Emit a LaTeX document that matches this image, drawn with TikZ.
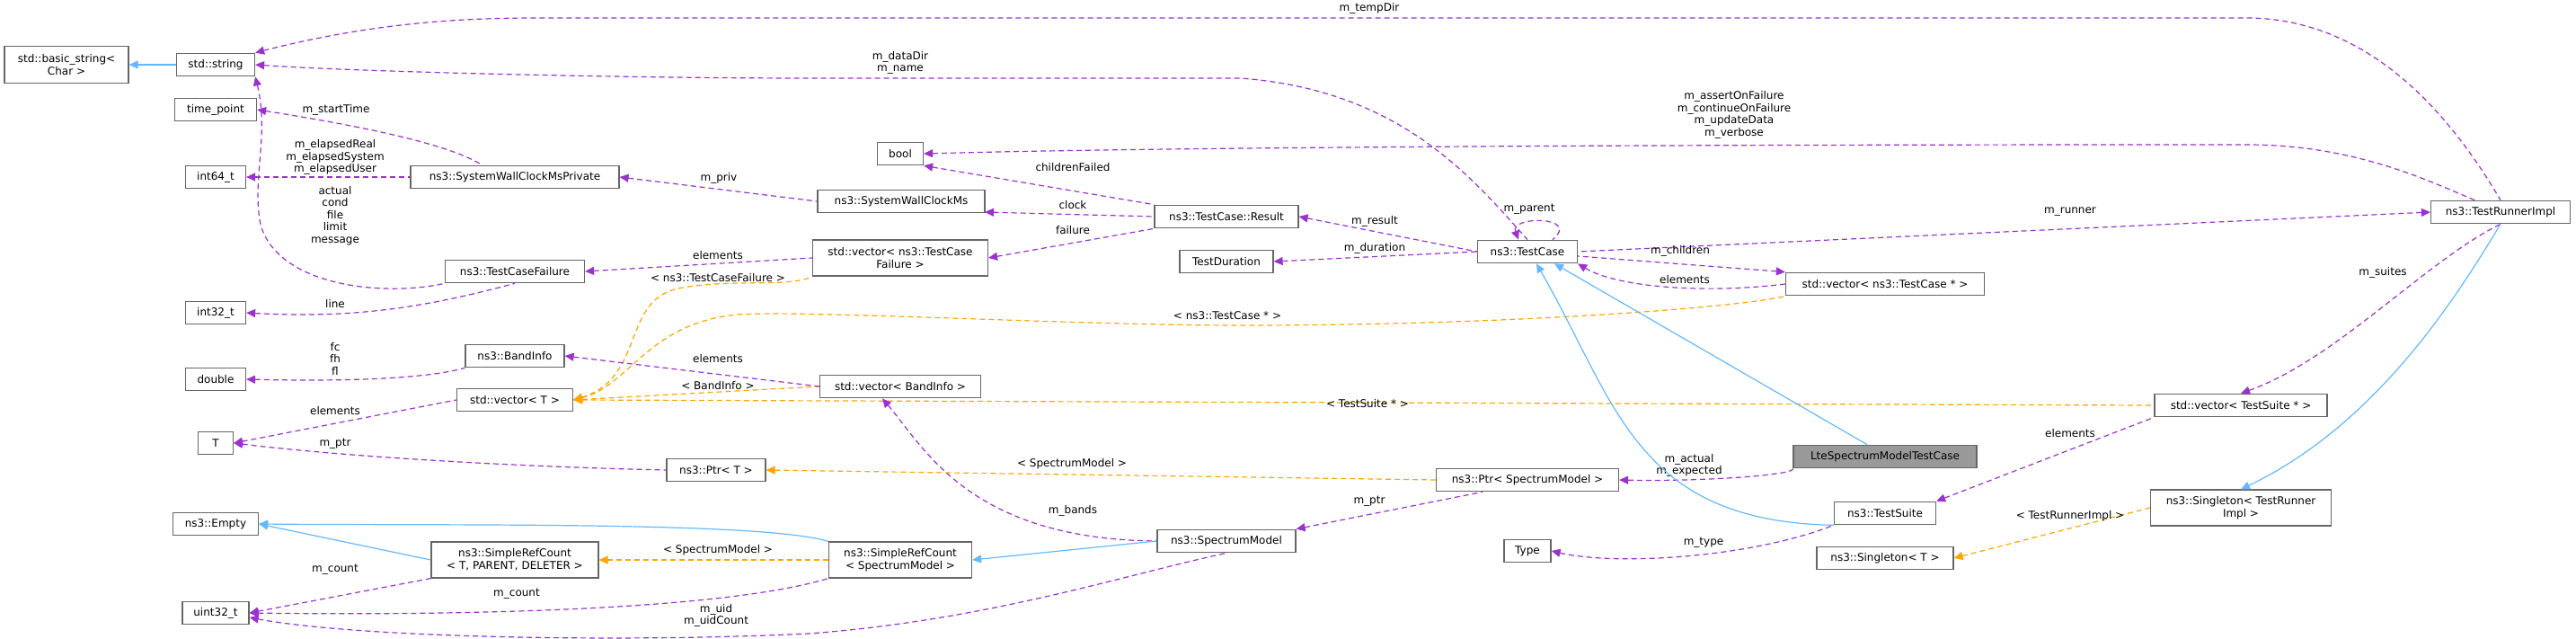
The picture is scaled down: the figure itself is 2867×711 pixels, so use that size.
\documentclass[tikz,border=0pt]{standalone}
\usepackage{fontspec}
\setmainfont{DejaVu Sans}
\usetikzlibrary{arrows.meta,calc}
\definecolor{purp}{HTML}{9A32CD}
\definecolor{orng}{HTML}{FFA500}
\definecolor{blu}{HTML}{63B8FF}
\tikzset{
 cls/.style={draw=black!60,line width=1.2pt,fill=white,font=\fontsize{12}{14}\selectfont,inner sep=0pt,align=center,minimum height=25.5pt},
 usep/.style={draw=purp,line width=1.2pt,dash pattern=on 6pt off 4pt,{Triangle[length=10pt,width=9pt]}-},
 tmpl/.style={draw=orng,line width=1.2pt,dash pattern=on 6pt off 4pt,{Triangle[length=10pt,width=9pt]}-},
 inh/.style={draw=blu,line width=1.2pt,{Triangle[length=10pt,width=9pt]}-},
 lbl/.style={font=\fontsize{12}{13.5}\selectfont,align=center,inner sep=0pt}
}
\begin{document}
\begin{tikzpicture}[x=1pt,y=-1pt]
\useasboundingbox (0,0) rectangle (2867,711);
% nodes
\node[cls,minimum width=138,minimum height=41] (bs) at (74,72) {std::basic\_string\textless\\Char \textgreater};
\node[cls,minimum width=87] (str) at (240,72) {std::string};
\node[cls,minimum width=91] (tp) at (240,122) {time\_point};
\node[cls,minimum width=67] (i64) at (240,197) {int64\_t};
\node[cls,minimum width=232] (swp) at (573,197) {ns3::SystemWallClockMsPrivate};
\node[cls,minimum width=186] (sw) at (1003,224) {ns3::SystemWallClockMs};
\node[cls,minimum width=51] (bool) at (1002,171) {bool};
\node[cls,minimum width=160] (res) at (1365,241) {ns3::TestCase::Result};
\node[cls,minimum width=195,minimum height=40] (vtcf) at (1002,287) {std::vector\textless{} ns3::TestCase\\Failure \textgreater};
\node[cls,minimum width=155] (tcf) at (573,302) {ns3::TestCaseFailure};
\node[cls,minimum width=67] (i32) at (240,348) {int32\_t};
\node[cls,minimum width=104] (td) at (1365,291) {TestDuration};
\node[cls,minimum width=111] (tc) at (1700,280) {ns3::TestCase};
\node[cls,minimum width=155] (tri) at (2783,236) {ns3::TestRunnerImpl};
\node[cls,minimum width=221] (vtc) at (2098,316) {std::vector\textless{} ns3::TestCase * \textgreater};
\node[cls,minimum width=110] (bi) at (573,396) {ns3::BandInfo};
\node[cls,minimum width=67] (dbl) at (240,422) {double};
\node[cls,minimum width=129] (vt) at (573,445) {std::vector\textless{} T \textgreater};
\node[cls,minimum width=179] (vbi) at (1002,430) {std::vector\textless{} BandInfo \textgreater};
\node[cls,minimum width=39] (T) at (240,493) {T};
\node[cls,minimum width=110] (pt) at (797,523) {ns3::Ptr\textless{} T \textgreater};
\node[cls,minimum width=203] (psm) at (1700,534) {ns3::Ptr\textless{} SpectrumModel \textgreater};
\node[cls,minimum width=204,fill=black!40] (lte) at (2098,508) {LteSpectrumModelTestCase};
\node[cls,minimum width=192] (vts) at (2494,451) {std::vector\textless{} TestSuite * \textgreater};
\node[cls,minimum width=113] (ts) at (2098,571) {ns3::TestSuite};
\node[cls,minimum width=201,minimum height=40] (sgl) at (2494,565) {ns3::Singleton\textless{} TestRunner\\Impl \textgreater};
\node[cls,minimum width=152] (sgt) at (2098,621) {ns3::Singleton\textless{} T \textgreater};
\node[cls,minimum width=52] (type) at (1700,613) {Type};
\node[cls,minimum width=154] (sm) at (1365,602) {ns3::SpectrumModel};
\node[cls,minimum width=159,minimum height=40] (srcs) at (1002,623) {ns3::SimpleRefCount\\\textless{} SpectrumModel \textgreater};
\node[cls,minimum width=186,minimum height=40] (srct) at (573,623) {ns3::SimpleRefCount\\\textless{} T, PARENT, DELETER \textgreater};
\node[cls,minimum width=95] (emp) at (240,583) {ns3::Empty};
\node[cls,minimum width=74] (u32) at (240,682) {uint32\_t};
% edges
\draw[inh] (bs.east) -- (str.west);
\draw[usep] (str.north east) .. controls (420,24) and (520,20) .. (600,20) -- (2500,20) .. controls (2650,20) and (2740,150) .. (tri.north);
\node[lbl] at (1524,9) {m\_tempDir};
\draw[usep] (str.east) .. controls (400,80) and (700,87) .. (900,87) -- (1380,87) .. controls (1560,100) and (1640,200) .. (tc.north);
\node[lbl] at (1002,70) {m\_dataDir\\m\_name};
\draw[usep] (str.south east) .. controls (300,150) and (280,200) .. (290,250) .. controls (310,320) and (430,330) .. (tcf.south west);
\node[lbl] at (373,240) {actual\\cond\\file\\limit\\message};
\draw[usep] (tp.east) .. controls (400,140) and (500,160) .. (537,184);
\node[lbl] at (374,122) {m\_startTime};
\draw[usep] (i64.east) -- (swp.west);
\node[lbl] at (373,175) {m\_elapsedReal\\m\_elapsedSystem\\m\_elapsedUser};
\draw[usep] (swp.east) -- (sw.west);
\node[lbl] at (800,198) {m\_priv};
\draw[usep] (bool.east) .. controls (1400,161) and (2200,161) .. (2500,161) .. controls (2620,161) and (2700,200) .. (2755,223);
\node[lbl] at (1930,128) {m\_assertOnFailure\\m\_continueOnFailure\\m\_updateData\\m\_verbose};
\draw[usep] (bool.south east) -- (res.north west);
\node[lbl] at (1194,186) {childrenFailed};
\draw[usep] (1096,236) -- (res.west);
\node[lbl] at (1194,228) {clock};
\draw[usep] (vtcf.east) -- (res.south west);
\node[lbl] at (1194,256) {failure};
\draw[usep] (tcf.east) -- (vtcf.west);
\node[lbl] at (799,284) {elements};
\draw[usep] (i32.east) .. controls (400,355) and (480,340) .. (tcf.south);
\node[lbl] at (373,338) {line};
\draw[tmpl] (vt.east) .. controls (720,420) and (690,330) .. (760,320) .. controls (820,310) and (880,320) .. (vtcf.south west);
\node[lbl] at (799,309) {\textless{} ns3::TestCaseFailure \textgreater};
\draw[usep] (res.east) -- (tc.west);
\node[lbl] at (1530,246) {m\_result};
\draw[usep] (td.east) -- (tc.west);
\node[lbl] at (1530,276) {m\_duration};
\draw[usep] ($(tc.north)+(-10,0)$) .. controls (1680,240) and (1760,240) .. ($(tc.north)+(28,0)$);
\node[lbl] at (1702,233) {m\_parent};
\draw[usep] (tri.west) -- (tc.east);
\node[lbl] at (2304,236) {m\_runner};
\draw[usep] (vtc.north west) -- ($(tc.east)+(0,5)$);
\node[lbl] at (1870,279) {m\_children};
\draw[usep] (tc.south east) .. controls (1800,320) and (1900,327) .. (vtc.west);
\node[lbl] at (1875,311) {elements};
\draw[tmpl] (vt.east) .. controls (700,430) and (720,360) .. (820,350) .. controls (900,345) and (1200,362) .. (1380,362) .. controls (1700,362) and (1950,340) .. (vtc.south west);
\node[lbl] at (1366,351) {\textless{} ns3::TestCase * \textgreater};
\draw[tmpl] (vt.east) -- (vbi.west);
\node[lbl] at (799,429) {\textless{} BandInfo \textgreater};
\draw[usep] (bi.east) -- (vbi.west);
\node[lbl] at (799,399) {elements};
\draw[usep] (dbl.east) .. controls (400,425) and (480,420) .. (bi.south west);
\node[lbl] at (373,399) {fc\\fh\\fl};
\draw[usep] (T.east) -- (vt.west);
\node[lbl] at (373,457) {elements};
\draw[usep] (T.east) .. controls (400,510) and (600,520) .. (pt.west);
\node[lbl] at (373,494) {m\_ptr};
\draw[tmpl] (vt.east) -- (vts.west);
\node[lbl] at (1522,449) {\textless{} TestSuite * \textgreater};
\draw[tmpl] (pt.east) -- (psm.west);
\node[lbl] at (1193,516) {\textless{} SpectrumModel \textgreater};
\draw[usep] (psm.east) .. controls (1900,536) and (2000,528) .. (lte.south west);
\node[lbl] at (1880,518) {m\_actual\\m\_expected};
\draw[inh] ($(tc.south)+(30,0)$) -- ($(lte.north)-(20,0)$);
\draw[inh] ($(tc.south)+(10,0)$) .. controls (1800,450) and (1820,580) .. (ts.south west);
\draw[usep] ($(vbi.south)+(-20,0)$) .. controls (1030,500) and (1080,600) .. (sm.west);
\node[lbl] at (1194,568) {m\_bands};
\draw[usep] (sm.north east) -- ($(psm.south)-(50,0)$);
\node[lbl] at (1524,558) {m\_ptr};
\draw[inh] (srcs.east) -- (sm.west);
\draw[inh] (emp.east) .. controls (500,585) and (850,580) .. (srcs.north west);
\draw[inh] (emp.east) -- (srct.west);
\draw[tmpl] (srct.east) -- (srcs.west);
\node[lbl] at (799,612) {\textless{} SpectrumModel \textgreater};
\draw[usep] (u32.east) -- (srct.south west);
\node[lbl] at (373,634) {m\_count};
\draw[usep] (u32.east) .. controls (500,685) and (800,680) .. (srcs.south west);
\node[lbl] at (575,661) {m\_count};
\draw[usep] ($(u32.east)+(0,5)$) .. controls (400,710) and (700,715) .. (900,705) .. controls (1100,690) and (1250,640) .. (sm.south);
\node[lbl] at (797,685) {m\_uid\\m\_uidCount};
\draw[usep] (type.east) .. controls (1800,630) and (1950,620) .. (ts.south west);
\node[lbl] at (1896,604) {m\_type};
\draw[usep] (vts.north) .. controls (2600,400) and (2700,290) .. (tri.south);
\node[lbl] at (2652,303) {m\_suites};
\draw[usep] (ts.north east) -- (vts.south west);
\node[lbl] at (2304,482) {elements};
\draw[inh] (sgl.north) .. controls (2650,470) and (2740,320) .. (tri.south);
\draw[tmpl] (sgt.east) -- (sgl.west);
\node[lbl] at (2304,574) {\textless{} TestRunnerImpl \textgreater};
\end{tikzpicture}
\end{document}
